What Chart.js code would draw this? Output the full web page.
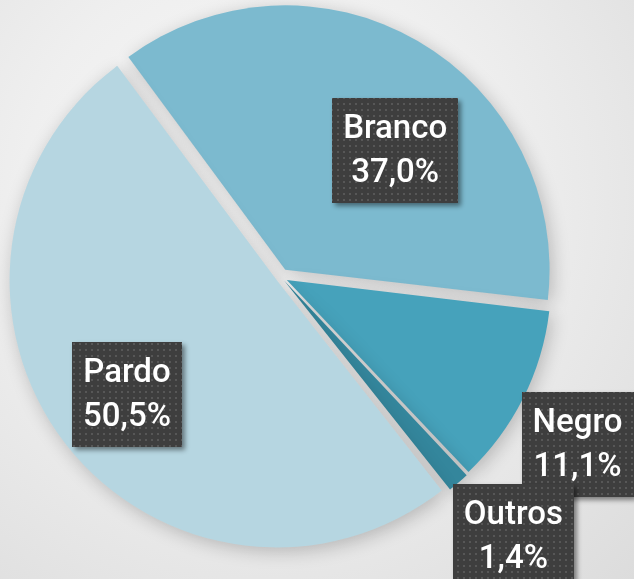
<!DOCTYPE html>
<html>
<head>
<meta charset="utf-8">
<script src="https://cdn.jsdelivr.net/npm/chart.js@4"></script>
<style>
  html, body { margin: 0; padding: 0; }
  body {
    width: 634px; height: 579px; overflow: hidden;
    background: radial-gradient(circle at 260px 200px, #f9f9f9 0%, #efefef 45%, #dcdcdc 100%);
  }
  #wrap { position: relative; width: 634px; height: 579px; }
</style>
</head>
<body>
<div id="wrap"><canvas id="pieChart"></canvas></div>
<script>
const categories = ['Branco', 'Negro', 'Outros', 'Pardo'];
const shares = [37.0, 11.1, 1.4, 50.5];

const sliceColors = ['#7cbacf', '#46a2bb', '#34869c', '#b6d6e1'];
// where each label sits, relative to its slice (radius factor, extra angle in degrees)
const labelPlace = [
  { r: 0.65, da: 12 },
  { r: 1.30, da: 2.8 },
  { r: 1.33, da: -1 },
  { r: 0.74, da: 0 }
];

function makeDots(ctx) {
  const c = document.createElement('canvas');
  c.width = 6; c.height = 6;
  const g = c.getContext('2d');
  g.fillStyle = '#3e3e3e';
  g.fillRect(0, 0, 6, 6);
  g.fillStyle = '#575757';
  g.fillRect(1, 1, 2, 2);
  return ctx.createPattern(c, 'repeat');
}

const pieShadow = {
  id: 'pieShadow',
  beforeDatasetsDraw(chart) {
    const ctx = chart.ctx;
    ctx.save();
    ctx.shadowColor = 'rgba(0,0,0,0.22)';
    ctx.shadowBlur = 18;
    ctx.shadowOffsetX = 3;
    ctx.shadowOffsetY = 4;
  },
  afterDatasetsDraw(chart) {
    chart.ctx.restore();
  }
};

const boxLabels = {
  id: 'boxLabels',
  afterDraw(chart) {
    const ctx = chart.ctx;
    const meta = chart.getDatasetMeta(0);
    const total = shares.reduce((a, b) => a + b, 0);
    const pattern = makeDots(ctx);
    ctx.save();
    ctx.font = '500 33px Roboto, "Liberation Sans", sans-serif';
    ctx.textAlign = 'center';
    ctx.textBaseline = 'middle';
    meta.data.forEach((arc, i) => {
      const p = arc.getProps(['x', 'y', 'startAngle', 'endAngle', 'outerRadius'], true);
      const place = labelPlace[i];
      const mid = (p.startAngle + p.endAngle) / 2 + place.da * Math.PI / 180;
      const cx = p.x + Math.cos(mid) * p.outerRadius * place.r;
      const cy = p.y + Math.sin(mid) * p.outerRadius * place.r;
      const line1 = categories[i];
      const line2 = (shares[i] / total * 100).toFixed(1).replace('.', ',') + '%';
      const w = Math.max(ctx.measureText(line1).width, ctx.measureText(line2).width) + 22;
      const h = 105;
      ctx.save();
      ctx.shadowColor = 'rgba(0,0,0,0.45)';
      ctx.shadowBlur = 5;
      ctx.shadowOffsetX = 3;
      ctx.shadowOffsetY = 3;
      ctx.fillStyle = pattern;
      ctx.fillRect(Math.round(cx - w / 2), Math.round(cy - h / 2), Math.round(w), h);
      ctx.restore();
      ctx.fillStyle = '#ffffff';
      ctx.fillText(line1, cx, cy - 21);
      ctx.fillText(line2, cx, cy + 23);
    });
    ctx.restore();
  }
};

new Chart(document.getElementById('pieChart'), {
  type: 'pie',
  data: {
    labels: categories,
    datasets: [{
      data: shares,
      backgroundColor: sliceColors,
      borderWidth: 0,
      offset: [34, 26, 20, 21]
    }]
  },
  options: {
    responsive: true,
    maintainAspectRatio: false,
    animation: false,
    rotation: -36.5,
    radius: 262,
    layout: { padding: { left: 0, right: 72, top: 0, bottom: 25 } },
    plugins: {
      legend: { display: false },
      tooltip: { enabled: false }
    }
  },
  plugins: [pieShadow, boxLabels]
});
</script>
</body>
</html>
